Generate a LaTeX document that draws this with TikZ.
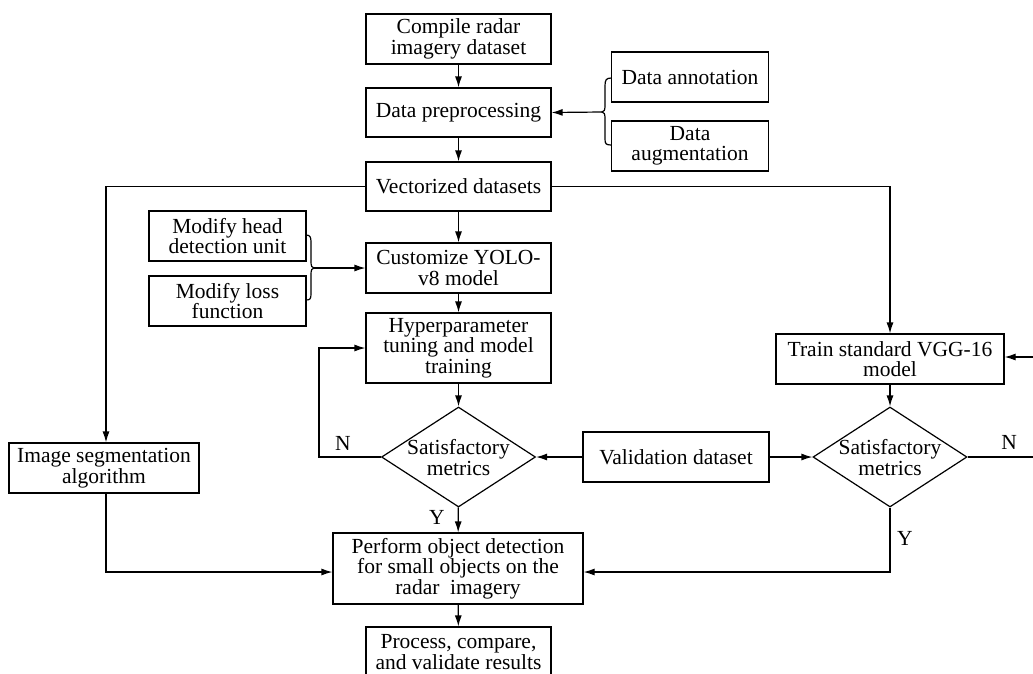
\documentclass[tikz,border=0pt]{standalone}
\usepackage{fontspec}
\setmainfont{Liberation Serif}
\usetikzlibrary{arrows.meta,shapes.geometric,calc}
\begin{document}
\begin{tikzpicture}[x=1pt,y=-1pt,
  font=\fontsize{21.5}{20.5}\selectfont,
  every path/.style={line width=1.2pt},
  box/.style={draw,line width=1.2pt,rectangle,align=center,inner sep=1pt},
  diam/.style={draw,line width=1.2pt,diamond,inner sep=0pt,minimum width=154pt,minimum height=100pt},
  arr/.style={-{Latex[length=11pt,width=7pt]},line width=1.2pt},
  lab/.style={inner sep=0pt}]
\useasboundingbox (0,0) rectangle (1033,673);
% main column
\node[box,minimum width=185pt,minimum height=50pt] (compile) at (458.5,39) {Compile radar\\imagery dataset};
\node[box,minimum width=185pt,minimum height=49pt] (prep) at (458.5,112.5) {Data preprocessing};
\node[box,minimum width=185pt,minimum height=49pt] (vec) at (458.5,186.5) {Vectorized datasets};
\node[box,minimum width=185pt,minimum height=50pt] (yolo) at (458.5,268) {Customize YOLO-\\v8 model};
\node[box,minimum width=185pt,minimum height=70pt] (hyper) at (458.5,348) {Hyperparameter\\tuning and model\\training};
\node[diam] (d1) at (458.5,457) {};
\node[lab,align=center] (d1t) at (458.5,457.5) {Satisfactory\\metrics};
\node[box,minimum width=250pt,minimum height=71pt] (perform) at (458,568.5) {Perform object detection\\for small objects on the\\radar\ \ imagery};
\node[box,minimum width=185pt,minimum height=50pt] (process) at (458.5,652) {Process, compare,\\and validate results};
% side boxes
\node[box,minimum width=157pt,minimum height=50pt] (annot) at (690,77) {Data annotation};
\node[box,minimum width=157pt,minimum height=50pt] (augm) at (690,146) {Data\\augmentation};
\node[box,minimum width=157pt,minimum height=50pt] (head) at (227.5,236) {Modify head\\detection unit};
\node[box,minimum width=157pt,minimum height=50pt] (loss) at (227.5,301) {Modify loss\\function};
\node[box,minimum width=190pt,minimum height=50pt] (imgseg) at (104,468) {Image segmentation\\algorithm};
\node[box,minimum width=228pt,minimum height=50pt] (vgg) at (890,359) {Train standard VGG-16\\model};
\node[diam] (d2) at (890,457) {};
\node[lab,align=center] (d2t) at (890,457.5) {Satisfactory\\metrics};
\node[box,minimum width=186pt,minimum height=50pt] (valid) at (676,457) {Validation dataset};
% braces
\coordinate (b1) at (602,112);
\draw (611.5,78) .. controls (606,78) and (605,80) .. (605,86) -- (605,106)
  .. controls (605,110) and (604,112) .. (b1)
  .. controls (604,112) and (605,114) .. (605,118) -- (605,139)
  .. controls (605,144) and (606,145) .. (611.5,145);
\coordinate (b2) at (314,268);
\draw (306,235) .. controls (310,235) and (311,237) .. (311,242) -- (311,262)
  .. controls (311,266) and (312,268) .. (b2)
  .. controls (312,268) and (311,270) .. (311,274) -- (311,294)
  .. controls (311,299) and (310,300) .. (306,300);
\draw[arr] (b1) -- (prep.east);
\draw[arr] (b2) -- (yolo.west);
% main flow
\draw[arr] (compile) -- (prep);
\draw[arr] (prep) -- (vec);
\draw[arr] (vec) -- (yolo);
\draw[arr] (yolo) -- (hyper);
\draw[arr] (hyper) -- (d1);
\draw[arr] (d1) -- (perform);
\draw[arr] (perform) -- (process);
% left branch
\draw[arr] (vec.west) -| ([xshift=2pt]imgseg.north);
\draw[arr] ([xshift=2pt]imgseg.south) |- ([yshift=-3.5pt]perform.west);
% loop N left
\draw[arr] (d1.west) -- ++(-62,0) |- (hyper.west);
% right branch
\draw[arr] (vec.east) -| (vgg.north);
\draw[arr] (vgg) -- (d2);
\draw[arr] (valid.west) -- (d1.east);
\draw[arr] (valid.east) -- (d2.west);
\draw[arr] (d2.south) |- ([yshift=-3.5pt]perform.east);
\coordinate (rc) at (1045,457);
\draw[arr] (d2.east) -- (rc) |- ([yshift=2pt]vgg.east);
% labels
\node[lab] (n1) at (343,443) {N};
\node[lab] (y1) at (437,517) {Y};
\node[lab] (y2) at (905,538) {Y};
\node[lab] (n2) at (1009,442) {N};
\end{tikzpicture}
\end{document}
